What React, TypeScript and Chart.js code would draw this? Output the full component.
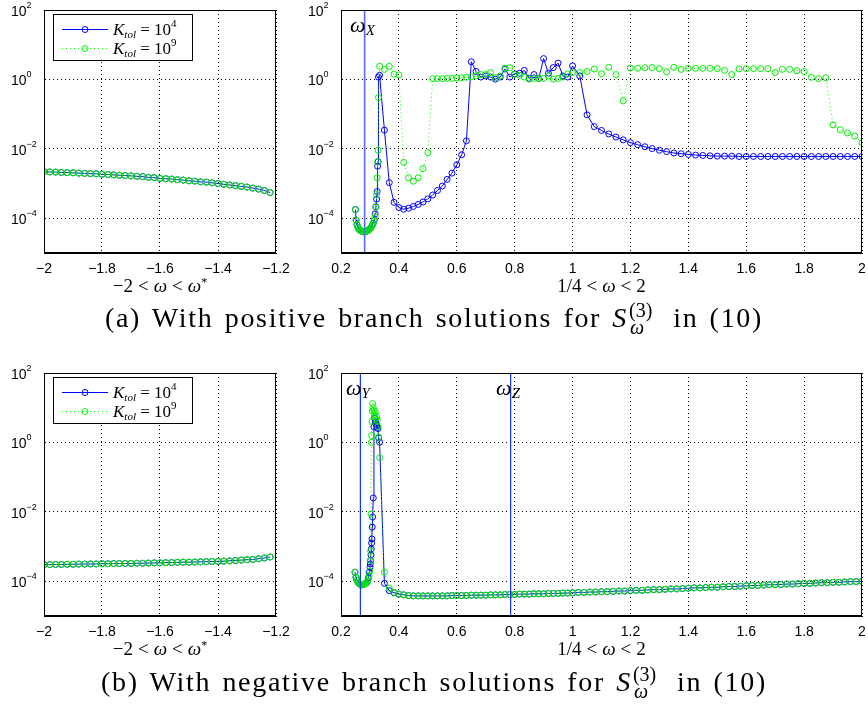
import React, { useEffect, useRef } from 'react';
import { Chart, registerables } from 'chart.js';

Chart.register(...registerables);

// ---------- data ----------
const omegaNeg = [-2.00, -1.98, -1.96, -1.94, -1.92, -1.90, -1.88, -1.86, -1.84, -1.82, -1.80, -1.78, -1.76, -1.74, -1.72, -1.70, -1.68, -1.66, -1.64, -1.62, -1.60, -1.58, -1.56, -1.54, -1.52, -1.50, -1.48, -1.46, -1.44, -1.42, -1.40, -1.38, -1.36, -1.34, -1.32, -1.30, -1.28, -1.26, -1.24, -1.22];

// (a) positive branch, -2 < w < w*
const tlK4 = [2.19e-3, 2.16e-3, 2.14e-3, 2.09e-3, 2.07e-3, 2.04e-3, 2.00e-3, 1.97e-3, 1.93e-3, 1.91e-3, 1.86e-3, 1.82e-3, 1.78e-3, 1.74e-3, 1.70e-3, 1.66e-3, 1.62e-3, 1.59e-3, 1.51e-3, 1.48e-3, 1.41e-3, 1.38e-3, 1.35e-3, 1.29e-3, 1.26e-3, 1.20e-3, 1.18e-3, 1.12e-3, 1.10e-3, 1.05e-3, 1.00e-3, 9.55e-4, 9.12e-4, 8.71e-4, 8.32e-4, 7.94e-4, 7.41e-4, 6.92e-4, 6.31e-4, 5.50e-4];
const tlK9 = [2.19e-3, 2.16e-3, 2.14e-3, 2.09e-3, 2.07e-3, 2.04e-3, 2.00e-3, 1.97e-3, 1.93e-3, 1.91e-3, 1.86e-3, 1.82e-3, 1.78e-3, 1.74e-3, 1.70e-3, 1.66e-3, 1.62e-3, 1.59e-3, 1.51e-3, 1.48e-3, 1.41e-3, 1.38e-3, 1.35e-3, 1.29e-3, 1.26e-3, 1.20e-3, 1.18e-3, 1.12e-3, 1.10e-3, 1.05e-3, 1.00e-3, 9.55e-4, 9.12e-4, 8.71e-4, 8.32e-4, 7.94e-4, 7.41e-4, 6.92e-4, 6.31e-4, 5.50e-4];

// (b) negative branch, -2 < w < w*
const blK4 = [3.02e-4, 3.02e-4, 3.05e-4, 3.05e-4, 3.09e-4, 3.09e-4, 3.13e-4, 3.13e-4, 3.16e-4, 3.16e-4, 3.20e-4, 3.20e-4, 3.24e-4, 3.24e-4, 3.27e-4, 3.27e-4, 3.31e-4, 3.31e-4, 3.35e-4, 3.39e-4, 3.39e-4, 3.43e-4, 3.47e-4, 3.51e-4, 3.55e-4, 3.55e-4, 3.59e-4, 3.63e-4, 3.67e-4, 3.72e-4, 3.76e-4, 3.80e-4, 3.89e-4, 3.98e-4, 4.07e-4, 4.17e-4, 4.27e-4, 4.47e-4, 4.68e-4, 5.01e-4];
const blK9 = [3.02e-4, 3.02e-4, 3.05e-4, 3.05e-4, 3.09e-4, 3.09e-4, 3.13e-4, 3.13e-4, 3.16e-4, 3.16e-4, 3.20e-4, 3.20e-4, 3.24e-4, 3.24e-4, 3.27e-4, 3.27e-4, 3.31e-4, 3.31e-4, 3.35e-4, 3.39e-4, 3.39e-4, 3.43e-4, 3.47e-4, 3.51e-4, 3.55e-4, 3.55e-4, 3.59e-4, 3.63e-4, 3.67e-4, 3.72e-4, 3.76e-4, 3.80e-4, 3.89e-4, 3.98e-4, 4.07e-4, 4.17e-4, 4.27e-4, 4.47e-4, 4.68e-4, 5.01e-4];

// (a) positive branch, 1/4 < w < 2
const trOmega = [
  0.2500, 0.2520, 0.2550, 0.2590, 0.2630, 0.2670, 0.2710, 0.2750, 0.2790, 0.2830, 0.2870, 0.2910, 0.2950, 0.2990, 0.3030, 0.3070, 0.3110, 0.3150, 0.3180, 0.3205, 0.3230, 0.3250, 0.3265, 0.3280, 0.3295,
  0.3333, 0.3500, 0.3667, 0.3833, 0.4000, 0.4167, 0.4333, 0.4500, 0.4667, 0.4833, 0.5000, 0.5167, 0.5333, 0.5500, 0.5667, 0.5833, 0.6000, 0.6167, 0.6333, 0.6500, 0.6667, 0.6833, 0.7000, 0.7167, 0.7333, 0.7500, 0.7667, 0.7833, 0.8000, 0.8167, 0.8333, 0.8500, 0.8667, 0.8833, 0.9000, 0.9167, 0.9333, 0.9500, 0.9667, 0.9833, 1.0000,
  1.025, 1.050, 1.075, 1.100, 1.125, 1.150, 1.175, 1.200, 1.225, 1.250, 1.275, 1.300, 1.325, 1.350, 1.375, 1.400, 1.425, 1.450, 1.475, 1.500, 1.525, 1.550, 1.575, 1.600, 1.625, 1.650, 1.675, 1.700, 1.725, 1.750, 1.775, 1.800, 1.825, 1.850, 1.875, 1.900, 1.925, 1.950, 1.975, 2.000,
];
const trK4 = [
  1.78e-4, 8.91e-5, 6.61e-5, 5.37e-5, 4.79e-5, 4.47e-5, 4.27e-5, 4.12e-5, 4.07e-5, 4.07e-5, 4.17e-5, 4.37e-5, 4.57e-5, 4.90e-5, 5.37e-5, 6.03e-5, 7.08e-5, 8.91e-5, 1.35e-4, 2.14e-4, 3.55e-4, 5.89e-4, 3.16e-3, 4.27e-3, 1.17,
  1.32, 0.0347, 1.07e-3, 2.88e-4, 2.04e-4, 1.82e-4, 1.95e-4, 2.19e-4, 2.51e-4, 2.95e-4, 3.63e-4, 4.68e-4, 6.31e-4, 8.51e-4, 1.32e-3, 2.00e-3, 3.47e-3, 6.76e-3, 0.0170, 3.24, 1.70, 1.17, 1.26, 1.17, 1.02, 1.17, 2.00, 1.17, 1.45, 1.51, 1.82, 1.07, 1.38, 1.07, 3.98, 1.51, 2.19, 2.95, 1.26, 1.17, 2.45,
  1.26, 0.0955, 0.0437, 0.0339, 0.0269, 0.0219, 0.0182, 0.0151, 0.0132, 0.0115, 0.0102, 9.12e-3, 8.32e-3, 7.59e-3, 7.24e-3, 6.92e-3, 6.61e-3, 6.46e-3, 6.31e-3, 6.17e-3, 6.17e-3, 6.17e-3, 6.03e-3, 6.03e-3, 6.03e-3, 6.03e-3, 6.03e-3, 6.03e-3, 6.03e-3, 6.03e-3, 6.03e-3, 6.03e-3, 6.03e-3, 6.03e-3, 6.03e-3, 6.03e-3, 6.03e-3, 6.03e-3, 6.03e-3, 6.03e-3,
];
const trK9 = [
  1.78e-4, 8.91e-5, 6.61e-5, 5.37e-5, 4.79e-5, 4.47e-5, 4.27e-5, 4.12e-5, 4.07e-5, 4.07e-5, 4.17e-5, 4.37e-5, 4.57e-5, 4.90e-5, 5.37e-5, 6.03e-5, 7.08e-5, 8.71e-5, 1.12e-4, 2.09e-4, 4.90e-4, 1.48e-3, 4.27e-3, 9.12e-3, 0.302,
  2.40, 1.95, 2.40, 1.41, 1.35, 4.07e-3, 1.48e-3, 1.17e-3, 1.48e-3, 2.69e-3, 7.76e-3, 1.05, 1.05, 1.05, 1.07, 1.07, 1.10, 1.12, 1.15, 1.20, 1.26, 1.38, 1.38, 1.58, 1.12, 1.26, 2.09, 2.19, 1.38, 1.32, 1.17, 1.02, 1.07, 1.07, 1.07, 1.26, 1.02, 1.07, 1.17, 1.45, 1.58,
  1.58, 1.70, 2.00, 1.45, 2.24, 1.38, 0.240, 2.14, 2.09, 2.19, 2.19, 2.04, 1.66, 2.24, 1.95, 2.09, 2.09, 2.09, 2.09, 2.04, 1.82, 1.38, 2.00, 2.04, 2.04, 2.04, 2.04, 1.58, 1.95, 1.95, 1.78, 1.70, 1.15, 1.05, 1.12, 0.0490, 0.0355, 0.0288, 0.0234, 0.0151,
];

// (b) negative branch, 1/4 < w < 2
const brOmega = [
  0.2483, 0.2517, 0.2550, 0.2590, 0.2630, 0.2670, 0.2710, 0.2750, 0.2790, 0.2830, 0.2870, 0.2910, 0.2943, 0.2970, 0.3000, 0.3012, 0.3023, 0.3035, 0.3046, 0.3057, 0.3069, 0.3080, 0.3092, 0.3115, 0.3138, 0.3160, 0.3185, 0.3207, 0.3230, 0.3253, 0.3277, 0.3300,
  0.3333, 0.3500, 0.3667, 0.3833, 0.4000, 0.4167, 0.4333, 0.4500, 0.4667, 0.4833, 0.5000, 0.5167, 0.5333, 0.5500, 0.5667, 0.5833, 0.6000, 0.6167, 0.6333, 0.6500, 0.6667, 0.6833, 0.7000, 0.7167, 0.7333, 0.7500, 0.7667, 0.7833, 0.8000, 0.8167, 0.8333, 0.8500, 0.8667, 0.8833, 0.9000, 0.9167, 0.9333, 0.9500, 0.9667, 0.9833, 1.0000,
  1.02, 1.04, 1.06, 1.08, 1.10, 1.12, 1.14, 1.16, 1.18, 1.20, 1.22, 1.24, 1.26, 1.28, 1.30, 1.32, 1.34, 1.36, 1.38, 1.40, 1.42, 1.44, 1.46, 1.48, 1.50, 1.52, 1.54, 1.56, 1.58, 1.60, 1.62, 1.64, 1.66, 1.68, 1.70, 1.72, 1.74, 1.76, 1.78, 1.80, 1.82, 1.84, 1.86, 1.88, 1.90, 1.92, 1.94, 1.96, 1.98, 2.00,
];
const brK4 = [
  1.82e-4, 1.32e-4, 1.07e-4, 9.33e-5, 8.51e-5, 8.13e-5, 7.94e-5, 7.94e-5, 8.13e-5, 8.51e-5, 8.91e-5, 9.77e-5, 1.26e-4, 1.82e-4, 2.51e-4, 3.16e-4, 3.98e-4, 5.75e-4, 8.51e-4, 1.26e-3, 1.66e-3, 3.63e-3, 7.08e-3, 0.0251, 2.82, 5.01, 3.98, 3.47, 3.09, 2.75, 2.51, 1.35,
  1.02, 8.71e-5, 5.37e-5, 4.68e-5, 4.27e-5, 4.07e-5, 3.89e-5, 3.80e-5, 3.80e-5, 3.80e-5, 3.80e-5, 3.80e-5, 3.80e-5, 3.80e-5, 3.80e-5, 3.89e-5, 3.89e-5, 3.89e-5, 3.89e-5, 3.98e-5, 3.98e-5, 3.98e-5, 3.98e-5, 4.07e-5, 4.07e-5, 4.07e-5, 4.17e-5, 4.17e-5, 4.17e-5, 4.27e-5, 4.27e-5, 4.27e-5, 4.37e-5, 4.37e-5, 4.37e-5, 4.47e-5, 4.47e-5, 4.47e-5, 4.57e-5, 4.57e-5, 4.68e-5,
  4.79e-5, 4.79e-5, 4.90e-5, 4.90e-5, 5.01e-5, 5.01e-5, 5.13e-5, 5.25e-5, 5.25e-5, 5.37e-5, 5.50e-5, 5.50e-5, 5.62e-5, 5.75e-5, 5.75e-5, 5.89e-5, 6.03e-5, 6.03e-5, 6.17e-5, 6.31e-5, 6.46e-5, 6.46e-5, 6.61e-5, 6.76e-5, 6.76e-5, 6.92e-5, 7.08e-5, 7.08e-5, 7.24e-5, 7.41e-5, 7.59e-5, 7.59e-5, 7.76e-5, 7.94e-5, 7.94e-5, 8.13e-5, 8.32e-5, 8.32e-5, 8.51e-5, 8.71e-5, 8.71e-5, 8.91e-5, 9.12e-5, 9.12e-5, 9.33e-5, 9.33e-5, 9.55e-5, 9.77e-5, 9.77e-5, 1.00e-4,
];
const brK9 = [
  1.82e-4, 1.32e-4, 1.07e-4, 9.33e-5, 8.51e-5, 8.13e-5, 7.94e-5, 7.94e-5, 8.13e-5, 8.51e-5, 8.91e-5, 9.77e-5, 1.12e-4, 1.41e-4, 1.95e-4, 3.98e-4, 7.41e-4, 8.71e-3, 1.00, 1.58, 3.98, 7.94, 13.2, 10.0, 8.32, 6.31, 7.59, 4.79, 5.62, 4.27, 2.82, 1.41,
  0.363, 1.82e-4, 6.31e-5, 4.79e-5, 4.27e-5, 4.07e-5, 3.89e-5, 3.80e-5, 3.80e-5, 3.80e-5, 3.80e-5, 3.80e-5, 3.80e-5, 3.80e-5, 3.80e-5, 3.89e-5, 3.89e-5, 3.89e-5, 3.89e-5, 3.98e-5, 3.98e-5, 3.98e-5, 3.98e-5, 4.07e-5, 4.07e-5, 4.07e-5, 4.17e-5, 4.17e-5, 4.17e-5, 4.27e-5, 4.27e-5, 4.27e-5, 4.37e-5, 4.37e-5, 4.37e-5, 4.47e-5, 4.47e-5, 4.47e-5, 4.57e-5, 4.57e-5, 4.68e-5,
  4.79e-5, 4.79e-5, 4.90e-5, 4.90e-5, 5.01e-5, 5.01e-5, 5.13e-5, 5.25e-5, 5.25e-5, 5.37e-5, 5.50e-5, 5.50e-5, 5.62e-5, 5.75e-5, 5.75e-5, 5.89e-5, 6.03e-5, 6.03e-5, 6.17e-5, 6.31e-5, 6.46e-5, 6.46e-5, 6.61e-5, 6.76e-5, 6.76e-5, 6.92e-5, 7.08e-5, 7.08e-5, 7.24e-5, 7.41e-5, 7.59e-5, 7.59e-5, 7.76e-5, 7.94e-5, 7.94e-5, 8.13e-5, 8.32e-5, 8.32e-5, 8.51e-5, 8.71e-5, 8.71e-5, 8.91e-5, 9.12e-5, 9.12e-5, 9.33e-5, 9.33e-5, 9.55e-5, 9.77e-5, 9.77e-5, 1.00e-4,
];

const negTicks = [-2, -1.8, -1.6, -1.4, -1.2];
const posTicks = [0.2, 0.4, 0.6, 0.8, 1, 1.2, 1.4, 1.6, 1.8, 2];
const yTicks = [1e-4, 1e-2, 1, 1e2];
const yTickExponents = ['\u22124', '\u22122', '0', '2'];
const legendExponents = ['4', '9'];
const omegaX = 0.2816;
const omegaY = 0.2670;
const omegaZ = 0.7860;

// ---------- layout constants ----------
const Y_AXIS_W = 44;
const PAD_T = 10;
const X_AXIS_H = 30;
const SERIF = '"Liberation Serif", "Times New Roman", serif';
const SANS = '"Liberation Sans", Arial, sans-serif';

type Part = { t: string; font: string; dy?: number };
function drawRich(ctx: CanvasRenderingContext2D, x: number, y: number, parts: Part[]) {
  let cx = x;
  for (const p of parts) {
    ctx.font = p.font;
    ctx.fillText(p.t, cx, y + (p.dy || 0));
    cx += ctx.measureText(p.t).width;
  }
}

type VLine = { value: number; sub: string };
type PanelProps = {
  plotLeft: number; plotTop: number; plotRight: number; plotBottom: number; padR: number;
  xMin: number; xMax: number; xTicks: number[];
  omega: number[]; k4: number[]; k9: number[];
  legend?: boolean; vlines?: VLine[]; vlineColor?: string; vlineWidth?: number;
};

function fmtTick(v: number) {
  const a = Math.abs(Math.round(v * 10) / 10);
  return (v < 0 ? '\u2212' : '') + String(a);
}

function Panel(p: PanelProps) {
  const ref = useRef<HTMLCanvasElement>(null);
  const W = p.plotRight - p.plotLeft + Y_AXIS_W + p.padR;
  const H = p.plotBottom - p.plotTop + PAD_T + X_AXIS_H;

  useEffect(() => {
    const canvas = ref.current;
    if (!canvas) return;
    const overlay = {
      id: 'overlay',
      afterDatasetsDraw(chart: any) {
        const ctx: CanvasRenderingContext2D = chart.ctx;
        const a = chart.chartArea;
        const xs = chart.scales.x;
        ctx.save();
        for (const v of p.vlines || []) {
          const px = xs.getPixelForValue(v.value);
          ctx.strokeStyle = p.vlineColor || '#0000ff';
          ctx.lineWidth = p.vlineWidth || 1;
          ctx.setLineDash([]);
          ctx.beginPath();
          ctx.moveTo(px, a.top);
          ctx.lineTo(px, a.bottom);
          ctx.stroke();
          ctx.fillStyle = '#000';
          ctx.textBaseline = 'alphabetic';
          ctx.textAlign = 'left';
          drawRich(ctx, px - 14.5, a.top + 22, [
            { t: '\u03c9', font: `italic 22px ${SERIF}` },
            { t: v.sub, font: `italic 15px ${SERIF}`, dy: 3 },
          ]);
        }
        ctx.strokeStyle = '#000';
        ctx.lineWidth = 1;
        ctx.setLineDash([]);
        ctx.strokeRect(a.left + 0.5, a.top + 0.5, a.right - a.left - 1, a.bottom - a.top - 1);
        if (p.legend) {
          const bx = a.left + 9, by = a.top + 4, bw = 139, bh = 46;
          ctx.fillStyle = '#fff';
          ctx.fillRect(bx, by, bw, bh);
          ctx.strokeStyle = '#000';
          ctx.strokeRect(bx + 0.5, by + 0.5, bw, bh);
          const rows = [
            { y: a.top + 19, color: '#0000ff', dash: [] as number[], exp: legendExponents[0] },
            { y: a.top + 38, color: '#00ff00', dash: [1, 3], exp: legendExponents[1] },
          ];
          for (const r of rows) {
            ctx.strokeStyle = r.color;
            ctx.lineWidth = 1;
            ctx.setLineDash(r.dash);
            ctx.beginPath();
            ctx.moveTo(a.left + 18, r.y + 0.5);
            ctx.lineTo(a.left + 64, r.y + 0.5);
            ctx.stroke();
            ctx.setLineDash([]);
            ctx.beginPath();
            ctx.arc(a.left + 41, r.y + 0.5, 3, 0, Math.PI * 2);
            ctx.stroke();
            ctx.fillStyle = '#000';
            ctx.textBaseline = 'alphabetic';
            ctx.textAlign = 'left';
            drawRich(ctx, a.left + 69, r.y + 6, [
              { t: 'K', font: `italic 17px ${SERIF}` },
              { t: 'tol', font: `italic 11px ${SERIF}`, dy: 3 },
              { t: ' = 10', font: `17px ${SERIF}` },
              { t: r.exp, font: `11px ${SERIF}`, dy: -8 },
            ]);
          }
        }
        ctx.restore();
      },
      afterDraw(chart: any) {
        const ctx: CanvasRenderingContext2D = chart.ctx;
        const a = chart.chartArea;
        const ys = chart.scales.y;
        ctx.save();
        ctx.fillStyle = '#000';
        ctx.textAlign = 'left';
        ctx.textBaseline = 'alphabetic';
        yTicks.forEach((v, i) => {
          const py = ys.getPixelForValue(v);
          drawRich(ctx, a.left - 33, py + 6, [
            { t: '10', font: `14px ${SANS}` },
            { t: yTickExponents[i], font: `9px ${SANS}`, dy: -8 },
          ]);
        });
        ctx.restore();
      },
    };

    const chart = new Chart(canvas, {
      type: 'line',
      data: {
        datasets: [
          {
            label: 'K_tol = 10^9',
            data: p.omega.map((x, i) => ({ x, y: p.k9[i] })),
            borderColor: '#00ff00',
            borderWidth: 1,
            borderDash: [1, 3],
            pointStyle: 'circle',
            pointRadius: 3,
            pointBorderWidth: 1,
            pointBorderColor: '#00ee00',
            pointBackgroundColor: 'rgba(0,0,0,0)',
            fill: false,
            tension: 0,
            order: 0,
          },
          {
            label: 'K_tol = 10^4',
            data: p.omega.map((x, i) => ({ x, y: p.k4[i] })),
            borderColor: '#0000ff',
            borderWidth: 1,
            pointStyle: 'circle',
            pointRadius: 3,
            pointBorderWidth: 1,
            pointBorderColor: '#0000ff',
            pointBackgroundColor: 'rgba(0,0,0,0)',
            fill: false,
            tension: 0,
            order: 1,
          },
        ],
      },
      options: {
        animation: false,
        responsive: false,
        events: [],
        layout: { padding: { left: 0, top: PAD_T, right: p.padR, bottom: 0 }, autoPadding: false } as any,
        plugins: { legend: { display: false }, tooltip: { enabled: false }, title: { display: false } },
        scales: {
          x: {
            type: 'linear',
            min: p.xMin,
            max: p.xMax,
            afterBuildTicks: (s: any) => { s.ticks = p.xTicks.map((v) => ({ value: v })); },
            afterFit: (s: any) => { s.height = X_AXIS_H; s.paddingLeft = 0; s.paddingRight = 0; },
            ticks: {
              autoSkip: false,
              maxRotation: 0,
              minRotation: 0,
              padding: 8,
              color: '#000',
              font: { family: SANS, size: 14 },
              callback: (v: any) => fmtTick(Number(v)),
            },
            grid: { color: '#000', lineWidth: 1, drawTicks: false },
            border: { display: true, color: '#000', dash: [1, 3] },
          },
          y: {
            type: 'logarithmic',
            min: 1e-5,
            max: 1e2,
            afterBuildTicks: (s: any) => { s.ticks = yTicks.map((v) => ({ value: v })); },
            afterFit: (s: any) => { s.width = Y_AXIS_W; s.paddingTop = 0; s.paddingBottom = 0; },
            ticks: { display: false },
            grid: { color: '#000', lineWidth: 1, drawTicks: false },
            border: { display: true, color: '#000', dash: [1, 3] },
          },
        },
      } as any,
      plugins: [overlay],
    });
    return () => chart.destroy();
  }, []);

  return (
    <canvas
      ref={ref}
      width={W}
      height={H}
      style={{ position: 'absolute', left: p.plotLeft - Y_AXIS_W, top: p.plotTop - PAD_T, width: W, height: H }}
    />
  );
}

function AxisTitle({ left, width, top, children }: { left: number; width: number; top: number; children: React.ReactNode }) {
  return (
    <div style={{ position: 'absolute', left, width, top, textAlign: 'center', fontFamily: SERIF, fontSize: 19, lineHeight: '20px', whiteSpace: 'nowrap', color: '#000' }}>
      {children}
    </div>
  );
}

function Caption({ top, tag, kind }: { top: number; tag: string; kind: string }) {
  return (
    <div style={{ position: 'absolute', left: 0, top, width: 868, textAlign: 'center', fontFamily: SERIF, fontSize: 28, lineHeight: '32px', letterSpacing: '1.7px', wordSpacing: '2.5px', whiteSpace: 'nowrap', color: '#000' }}>
      ({tag}) With {kind} branch solutions for <span style={{ fontStyle: 'italic' }}>S</span>
      <span style={{ display: 'inline-block', position: 'relative', width: 34, height: 27, letterSpacing: 0 }}>
        <span style={{ position: 'absolute', left: 1, top: 0, fontSize: 20, lineHeight: 1 }}>(3)</span>
        <span style={{ position: 'absolute', left: 2, top: 17, fontSize: 20, lineHeight: 1, fontStyle: 'italic' }}>{'\u03c9'}</span>
      </span>
      {' '}in (10)
    </div>
  );
}

const rel = { display: 'inline-block', padding: '0 5px' };
const negTitle = (
  <span>{'\u22122'}<span style={rel}>&lt;</span><i>{'\u03c9'}</i><span style={rel}>&lt;</span><i>{'\u03c9'}</i><sup style={{ fontSize: 12, verticalAlign: '0.5em', lineHeight: 0 }}>*</sup></span>
);
const posTitle = (
  <span>1/4<span style={rel}>&lt;</span><i>{'\u03c9'}</i><span style={rel}>&lt;</span>2</span>
);

export default function App() {
  return (
    <div style={{ position: 'absolute', left: 0, top: 0, width: 868, height: 719, background: '#fff', overflow: 'hidden' }}>
      <Panel plotLeft={44} plotTop={10} plotRight={276} plotBottom={253} padR={18} xMin={-2} xMax={-1.2} xTicks={negTicks}
        omega={omegaNeg} k4={tlK4} k9={tlK9} legend />
      <Panel plotLeft={341} plotTop={10} plotRight={862} plotBottom={253} padR={6} xMin={0.2} xMax={2} xTicks={posTicks}
        omega={trOmega} k4={trK4} k9={trK9} vlines={[{ value: omegaX, sub: 'X' }]} vlineColor="#5a66ff" vlineWidth={1.6} />
      <Panel plotLeft={44} plotTop={373} plotRight={276} plotBottom={616} padR={18} xMin={-2} xMax={-1.2} xTicks={negTicks}
        omega={omegaNeg} k4={blK4} k9={blK9} legend />
      <Panel plotLeft={341} plotTop={373} plotRight={862} plotBottom={616} padR={6} xMin={0.2} xMax={2} xTicks={posTicks}
        omega={brOmega} k4={brK4} k9={brK9} vlines={[{ value: omegaY, sub: 'Y' }, { value: omegaZ, sub: 'Z' }]} vlineColor="#1133ff" vlineWidth={1.2} />
      <AxisTitle left={44} width={232} top={276}>{negTitle}</AxisTitle>
      <AxisTitle left={341} width={521} top={276}>{posTitle}</AxisTitle>
      <AxisTitle left={44} width={232} top={639}>{negTitle}</AxisTitle>
      <AxisTitle left={341} width={521} top={639}>{posTitle}</AxisTitle>
      <Caption top={300} tag="a" kind="positive" />
      <Caption top={664} tag="b" kind="negative" />
    </div>
  );
}
